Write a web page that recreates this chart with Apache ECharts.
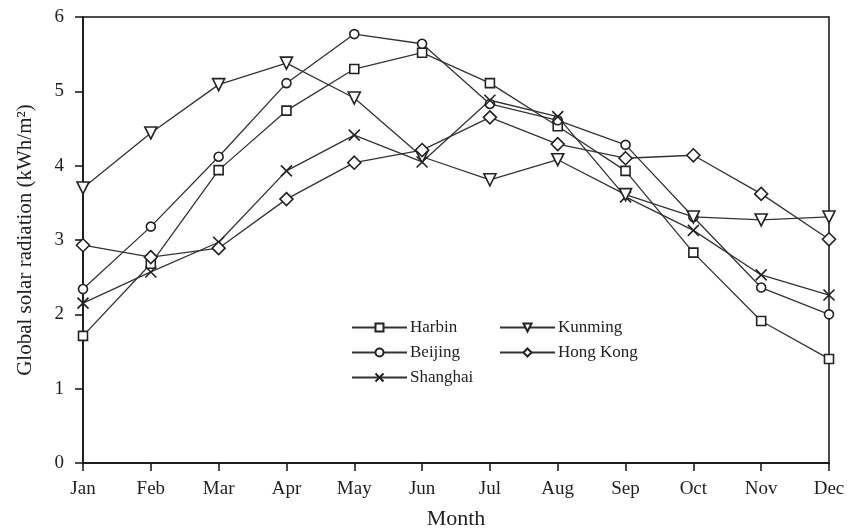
<!DOCTYPE html>
<html><head><meta charset="utf-8">
<script src="https://cdn.jsdelivr.net/npm/echarts@6/dist/echarts.min.js"></script>
<style>html,body{margin:0;padding:0;background:#fff}#c{width:853px;height:532px}</style>
</head><body><div id="c"></div>
<script>
const months = ['Jan','Feb','Mar','Apr','May','Jun','Jul','Aug','Sep','Oct','Nov','Dec'];
const harbin   = [1.71,2.68,3.94,4.74,5.30,5.52,5.11,4.53,3.93,2.83,1.91,1.40];
const beijing  = [2.34,3.18,4.12,5.11,5.77,5.64,4.83,4.61,4.28,3.31,2.36,2.00];
const shanghai = [2.15,2.57,2.97,3.93,4.41,4.05,4.88,4.66,3.58,3.13,2.53,2.26];
const kunming  = [3.70,4.44,5.09,5.38,4.91,4.12,3.81,4.08,3.61,3.31,3.27,3.31];
const hongkong = [2.93,2.77,2.89,3.55,4.04,4.21,4.65,4.29,4.10,4.14,3.62,3.01];
const yTicks = [0,1,2,3,4,5,6];

const FONT = 'Liberation Serif';
const lineCol = '#333';
function mk(name, data, symbol, size, rotate){
  return {
    name, type:'line', data, symbol, symbolSize:size, symbolRotate: rotate||0,
    showAllSymbol:true,
    lineStyle:{color:lineCol,width:1.3},
    itemStyle:{color:'#fff',borderColor:'#222',borderWidth:1.6},
    z: 3
  };
}
const chart = echarts.init(document.getElementById('c'));
const legendBase = {
  orient:'vertical', itemWidth:55, itemHeight:10, itemGap:8,
  textStyle:{fontFamily:FONT,fontSize:17,color:'#222',padding:[0,0,0,-2]}
};
chart.setOption({
  animation:false,
  backgroundColor:'#fff',
  grid:{left:83,right:24,top:17,bottom:69,containLabel:false,outerBoundsMode:'none'},
  legend:[
    Object.assign({},legendBase,{data:['Harbin','Beijing','Shanghai'],left:346,top:314}),
    Object.assign({},legendBase,{data:['Kunming','Hong Kong'],left:494,top:314})
  ],
  xAxis:{
    type:'category', data:months, boundaryGap:false,
    name:'Month', nameLocation:'middle', nameGap:45,
    nameTextStyle:{fontFamily:FONT,fontSize:22,color:'#222'},
    axisLine:{lineStyle:{color:'#111',width:1.5}},
    axisTick:{alignWithLabel:true,length:8,lineStyle:{color:'#111',width:1.5}},
    axisLabel:{fontFamily:FONT,fontSize:19,color:'#222',margin:17},
    splitLine:{show:false}
  },
  yAxis:{
    type:'value', min:yTicks[0], max:yTicks[yTicks.length-1], interval:1,
    name:'Global solar radiation (kWh/m²)', nameLocation:'middle', nameGap:47,
    nameTextStyle:{fontFamily:FONT,fontSize:21,color:'#222'},
    axisLine:{show:true,lineStyle:{color:'#111',width:1.5}},
    axisTick:{show:true,length:8,lineStyle:{color:'#111',width:1.5}},
    axisLabel:{fontFamily:FONT,fontSize:19,color:'#222',margin:19},
    splitLine:{show:false}
  },
  series:[
    mk('Harbin', harbin, 'rect', 9),
    mk('Beijing', beijing, 'circle', 9),
    mk('Shanghai', shanghai, 'path://M0,0L10,10M10,0L0,10', 11),
    mk('Kunming', kunming, 'triangle', 12, 180),
    mk('Hong Kong', hongkong, 'diamond', 13)
  ]
});
const w = chart.getWidth(), h = chart.getHeight();
chart.setOption({graphic:[{type:'rect',shape:{x:83,y:17,width:w-83-24,height:h-17-69},style:{fill:'none',stroke:'#111',lineWidth:1.5},silent:true,z:0}]});
</script></body></html>
